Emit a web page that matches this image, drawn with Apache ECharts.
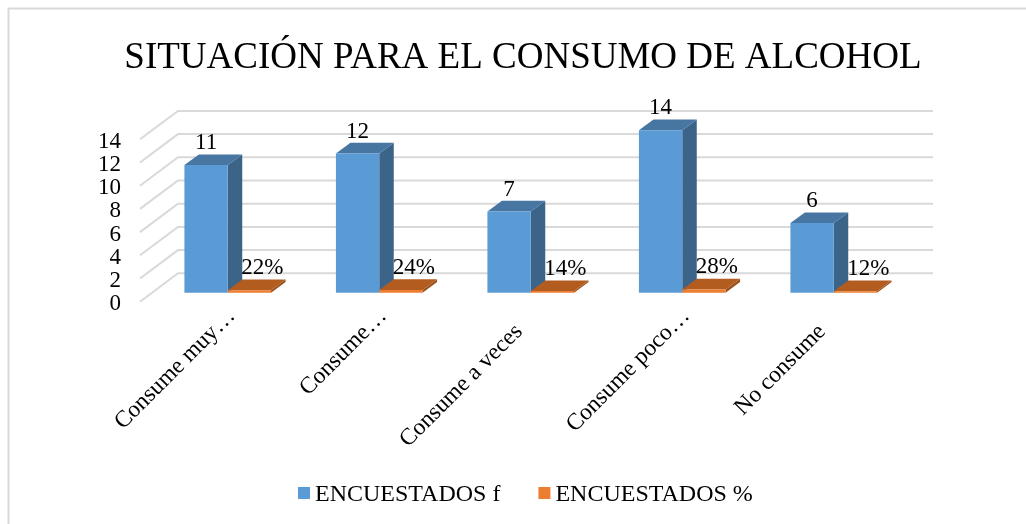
<!DOCTYPE html>
<html>
<head>
<meta charset="utf-8">
<script src="https://cdn.jsdelivr.net/npm/echarts@6/dist/echarts.min.js"></script>
<style>
html, body { margin: 0; padding: 0; background: #fff; }
#chart { width: 1026px; height: 524px; }
</style>
</head>
<body>
<div id="chart"></div>
<script>
var categories = ["Consume muy…", "Consume…", "Consume a veces", "Consume poco…", "No consume"];
var encuestadosF = [11, 12, 7, 14, 6];
var encuestadosPct = [0.22, 0.24, 0.14, 0.28, 0.12];
var yTicks = [0, 2, 4, 6, 8, 10, 12, 14];

var FONT = '"Liberation Serif", serif';
var BAR_RATIO = 0.286; // ancho de barra / ancho de categoria
var BAR_DX = 14.5, BAR_DY = 10.7; // profundidad de la barra
var WALL_DX = 38, WALL_DY = 28.4; // profundidad de la pared

var myChart = echarts.init(document.getElementById("chart"));

function bar3d(colors, side, labelDx, fmt) {
    return function (params, api) {
        var base = api.coord([api.value(0), 0]);
        var top = api.coord([api.value(0), api.value(1)]);
        var w = api.size([1, 0])[0] * BAR_RATIO;
        var x0 = side < 0 ? base[0] - w : base[0];
        var x1 = x0 + w;
        var y0 = base[1], y1 = top[1];
        return {
            type: "group",
            children: [
                {
                    type: "polygon",
                    shape: { points: [[x1, y0], [x1 + BAR_DX, y0 - BAR_DY], [x1 + BAR_DX, y1 - BAR_DY], [x1, y1]] },
                    style: { fill: colors[2] }
                },
                {
                    type: "polygon",
                    shape: { points: [[x0, y1], [x1, y1], [x1 + BAR_DX, y1 - BAR_DY], [x0 + BAR_DX, y1 - BAR_DY]] },
                    style: { fill: colors[1] }
                },
                {
                    type: "rect",
                    shape: { x: x0, y: y1, width: w, height: y0 - y1 },
                    style: { fill: colors[0] }
                },
                {
                    type: "text",
                    z2: 10,
                    style: {
                        text: fmt(api.value(1)),
                        x: (x0 + x1) / 2 + labelDx,
                        y: y1 - 22,
                        align: "center",
                        verticalAlign: "middle",
                        font: "23px " + FONT,
                        fill: "#000"
                    }
                }
            ]
        };
    };
}

const option = {
    backgroundColor: "#fff",
    animation: false,
    title: {
        text: "SITUACIÓN PARA EL CONSUMO DE ALCOHOL",
        left: 518,
        top: 35,
        textAlign: "center",
        textStyle: { fontFamily: FONT, fontSize: 37, fontWeight: "normal", color: "#000" }
    },
    legend: {
        data: ["ENCUESTADOS f", "ENCUESTADOS %"],
        left: 293,
        top: 478,
        icon: "rect",
        itemWidth: 12,
        itemHeight: 12,
        itemGap: 38,
        formatter: function (name) { return "{t|" + name + "}"; },
        textStyle: {
            rich: {
                t: { fontFamily: FONT, fontSize: 24, color: "#000", padding: [4, 0, 0, 0] }
            }
        }
    },
    graphic: [
        {
            type: "rect",
            silent: true,
            z: -10,
            shape: { x: 8.5, y: 8.5, width: 1100, height: 1100 },
            style: { fill: "none", stroke: "#d9d9d9", lineWidth: 2 }
        }
    ],
    grid: [
        // plano frontal de la pared, de aqui salen las etiquetas del eje y
        { left: 140, width: 755, top: 139.3, height: 162.4 },
        // plano donde se apoyan las barras
        { left: 152, width: 757.5, top: 130.3, height: 162.4 }
    ],
    xAxis: [
        { gridIndex: 0, type: "category", data: categories, show: false },
        {
            gridIndex: 1,
            type: "category",
            data: categories,
            axisLine: { show: false },
            axisTick: { show: false },
            axisLabel: {
                interval: 0,
                rotate: 45,
                margin: 16,
                fontFamily: FONT,
                fontSize: 23.5,
                color: "#000",
                // las etiquetas sin cortar quedan mas abajo que las cortadas
                formatter: function (value) {
                    return value.slice(-1) === "…" ? "{cut|" + value + "}" : "{full|" + value + "}";
                },
                rich: {
                    cut: { fontFamily: FONT, fontSize: 23.5, color: "#000", padding: [11, 0, 0, 0] },
                    full: { fontFamily: FONT, fontSize: 23.5, color: "#000", padding: [11, 22, 0, 0] }
                }
            }
        }
    ],
    yAxis: [
        {
            gridIndex: 0,
            type: "value",
            min: 0,
            max: 14,
            interval: 2,
            axisLine: { show: false },
            axisTick: { show: false },
            splitLine: { show: false },
            axisLabel: {
                margin: 19,
                fontFamily: FONT,
                fontSize: 23,
                color: "#000",
                formatter: function (value) { return "{v|" + value + "}"; },
                rich: {
                    v: { fontFamily: FONT, fontSize: 23, color: "#000", padding: [5, 0, 0, 0] }
                }
            }
        },
        { gridIndex: 1, type: "value", min: 0, max: 14, interval: 2, show: false, splitLine: { show: false } }
    ],
    series: [
        {
            name: "pared",
            type: "custom",
            xAxisIndex: 0,
            yAxisIndex: 0,
            silent: true,
            z: 1,
            clip: false,
            data: yTicks.map(function (v) { return [0, v]; }),
            encode: { x: 0, y: 1 },
            renderItem: function (params, api) {
                var y = api.coord([0, api.value(1)])[1];
                var left = params.coordSys.x;
                var right = left + params.coordSys.width;
                return {
                    type: "polyline",
                    shape: { points: [[left, y], [left + WALL_DX, y - WALL_DY], [right + WALL_DX, y - WALL_DY]] },
                    style: { fill: "none", stroke: "#d9d9d9", lineWidth: 2 }
                };
            }
        },
        {
            name: "ENCUESTADOS f",
            type: "custom",
            xAxisIndex: 1,
            yAxisIndex: 1,
            z: 2,
            clip: false,
            itemStyle: { color: "#5b9bd5" },
            data: encuestadosF.map(function (v, i) { return [i, v]; }),
            encode: { x: 0, y: 1 },
            renderItem: bar3d(["#5b9bd5", "#4876a3", "#3b6488"], -1, 0, function (v) { return String(v); })
        },
        {
            name: "ENCUESTADOS %",
            type: "custom",
            xAxisIndex: 1,
            yAxisIndex: 1,
            z: 3,
            clip: false,
            itemStyle: { color: "#ed7d31" },
            data: encuestadosPct.map(function (v, i) { return [i, v]; }),
            encode: { x: 0, y: 1 },
            renderItem: bar3d(["#ed7d31", "#b35c20", "#99501c"], 1, 13, function (v) { return Math.round(v * 100) + "%"; })
        }
    ]
};
myChart.setOption(option);
</script>
</body>
</html>
